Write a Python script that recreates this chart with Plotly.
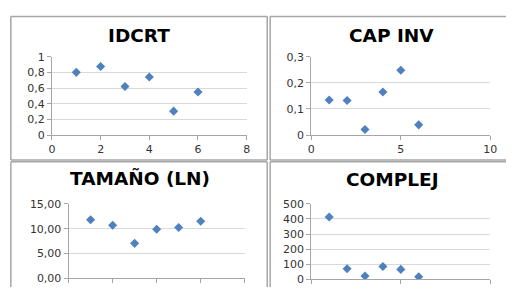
import plotly.graph_objects as go
from plotly.subplots import make_subplots

x_obs = [1, 2, 3, 4, 5, 6]
idcrt = [0.80, 0.875, 0.62, 0.74, 0.305, 0.55]
cap_inv = [0.134, 0.132, 0.021, 0.165, 0.248, 0.039]
tamano = [11.8, 10.7, 7.05, 9.9, 10.25, 11.5]
complej = [413, 70, 22, 85, 66, 17]
titles = ["IDCRT", "CAP INV", "TAMAÑO (LN)", "COMPLEJ"]

W, H = 513, 294
MARK = "#4F81BD"
GRID = "#D9D9D9"
AXIS = "#A6A6A6"
BORDER = "#A6A6A6"
TICKFONT = dict(family="DejaVu Sans", size=11, color="#333333")

fig = make_subplots(rows=2, cols=2)

series = [(idcrt, 1, 1), (cap_inv, 1, 2), (tamano, 2, 1), (complej, 2, 2)]
for vals, r, c in series:
    fig.add_trace(go.Scatter(x=x_obs, y=vals, mode="markers",
                             marker=dict(symbol="diamond", size=7, color=MARK),
                             showlegend=False), row=r, col=c)

def px(x0, x1):
    return [x0 / W, x1 / W]

def py(top, bottom):
    return [(H - bottom) / H, (H - top) / H]

domains = {
    1: (px(49, 248), py(53, 135)),
    2: (px(314, 497), py(53, 135)),
    3: (px(66, 246), py(207, 285)),
    4: (px(314, 497), py(207, 286)),
}
xranges = {1: [0, 8], 2: [0, 10], 3: [0, 8], 4: [0, 10]}
xdt = {1: 2, 2: 5, 3: 2, 4: 5}
yranges = {1: [0, 1], 2: [0, 0.3], 3: [0, 15], 4: [0, 500]}
ydt = {1: 0.2, 2: 0.1, 3: 5, 4: 100}
yfmt = {1: "", 2: "", 3: ".2f", 4: ""}

for i in range(1, 5):
    xd, yd = domains[i]
    sfx = "" if i == 1 else str(i)
    fig.layout["xaxis" + sfx].update(
        domain=xd, range=xranges[i], dtick=xdt[i], tick0=0,
        showgrid=False, zeroline=False, showline=True, linecolor=AXIS, linewidth=1,
        ticks="outside", ticklen=4, tickcolor=AXIS,
        showticklabels=(i <= 2), tickfont=TICKFONT)
    fig.layout["yaxis" + sfx].update(
        domain=yd, range=yranges[i], dtick=ydt[i], tick0=0, tickformat=yfmt[i],
        showgrid=True, gridcolor=GRID, gridwidth=1, zeroline=False,
        showline=True, linecolor=AXIS, linewidth=1,
        ticks="outside", ticklen=4, tickcolor=AXIS, tickfont=TICKFONT)

# panel border segments (pixel coords), kept inside the page
segments = [
    (7, 11, 269, 11), (7, 11, 7, 161), (269, 11, 269, 161), (7, 161, 269, 161),
    (272, 11, 513, 11), (272, 11, 272, 161), (272, 161, 513, 161),
    (7, 163, 269, 163), (7, 163, 7, 294), (269, 163, 269, 294),
    (272, 163, 513, 163), (272, 163, 272, 294),
]
for x0, y0, x1, y1 in segments:
    fig.add_shape(type="line", xref="paper", yref="paper",
                  x0=x0 / W, x1=x1 / W, y0=(H - y0) / H, y1=(H - y1) / H,
                  line=dict(color=BORDER, width=1.5), layer="below")

title_pos = [(138, 31), (396, 31), (139, 180), (397, 182)]
for t, (cx, cy) in zip(titles, title_pos):
    fig.add_annotation(text="<b>%s</b>" % t, x=cx / W, y=(H - cy) / H, xref="paper", yref="paper",
                       showarrow=False, xanchor="center", yanchor="middle",
                       font=dict(family="DejaVu Sans", size=18.5, color="#000000"))

fig.update_layout(width=W, height=H, margin=dict(l=0, r=0, t=0, b=0),
                  paper_bgcolor="white", plot_bgcolor="white", separators=",.",
                  showlegend=False)

fig.write_html("out.html",
               config={"displayModeBar": False},
               post_script="document.body.style.margin='0';document.body.style.padding='0';"
                           "document.body.style.overflow='hidden';")
